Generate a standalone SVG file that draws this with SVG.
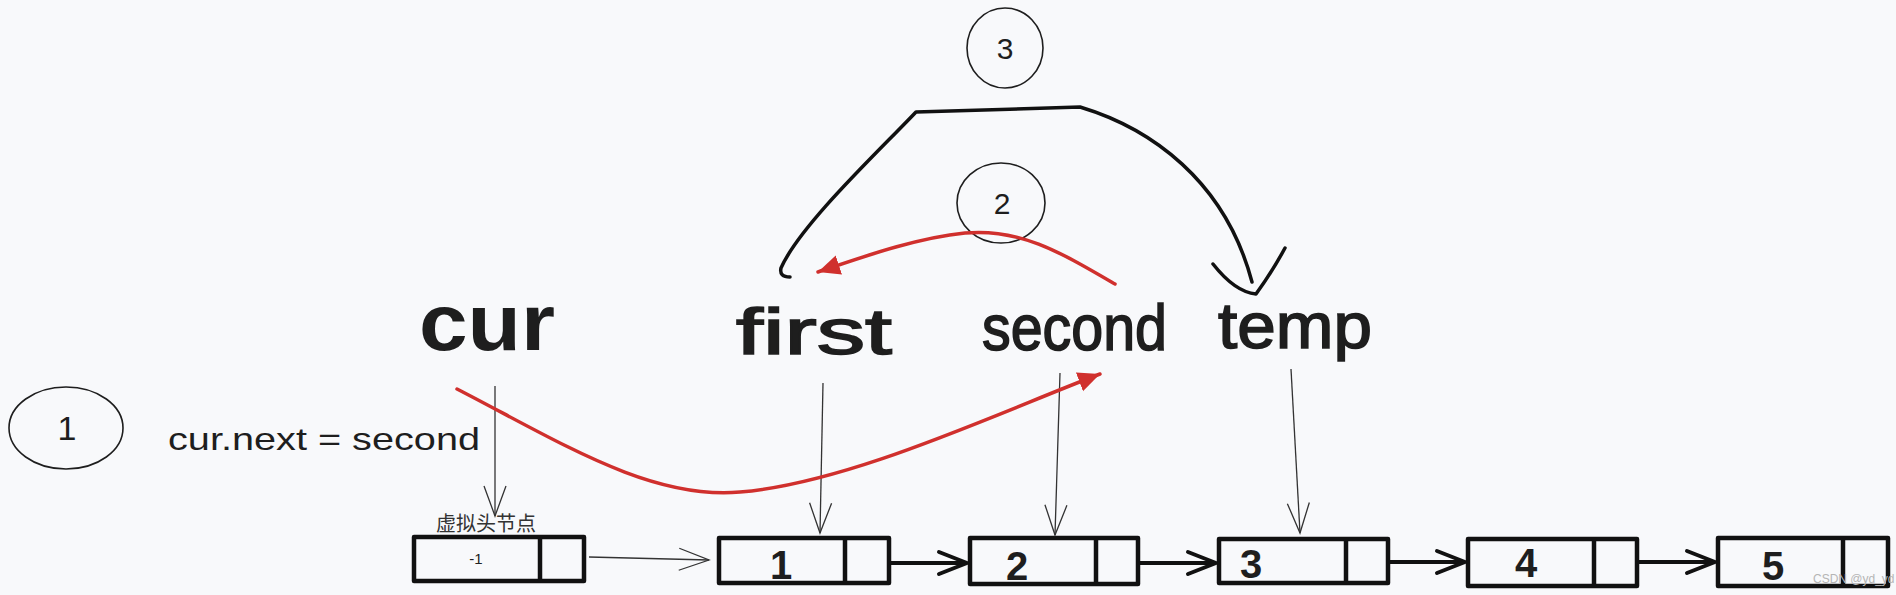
<svg xmlns="http://www.w3.org/2000/svg" width="1896" height="595" viewBox="0 0 1896 595">
<defs>
<style>
.hand{font-family:"Liberation Sans","Open Sans",sans-serif;fill:#1e1e1e;}
.big{font-size:64px;text-anchor:start;stroke:#1e1e1e;stroke-width:1.6;}
.box{fill:none;stroke:#111;stroke-width:4.5;stroke-linejoin:round;}
.num{font-family:"Liberation Sans",sans-serif;font-weight:bold;font-size:40px;fill:#1e1e1e;text-anchor:middle;}
.thin{fill:none;stroke:#333;stroke-width:1.3;}
.thick{fill:none;stroke:#111;stroke-width:4;}
.red{fill:none;stroke:#d0302d;stroke-width:3.5;stroke-linecap:round;}
.circ{fill:none;stroke:#1e1e1e;stroke-width:1.6;}
</style>
<marker id="thinHead" markerUnits="userSpaceOnUse" markerWidth="34" markerHeight="26" refX="31" refY="12" orient="auto">
<path d="M1,1 L31,12 L1,23" fill="none" stroke="#333" stroke-width="1.3"/>
</marker>
<marker id="thickHead" markerUnits="userSpaceOnUse" markerWidth="36" markerHeight="30" refX="31" refY="14" orient="auto">
<path d="M3,3 L31,14 L3,25" fill="none" stroke="#111" stroke-width="4" stroke-linecap="round" stroke-linejoin="round"/>
</marker>
<marker id="redHead" markerUnits="userSpaceOnUse" markerWidth="26" markerHeight="22" refX="22" refY="10" orient="auto">
<path d="M0,0 L22,10 L0,20 Z" fill="#d0302d"/>
</marker>
</defs>
<rect width="1896" height="595" fill="#f8f9fb"/>

<g id="step1">
<ellipse class="circ" cx="66" cy="428" rx="57" ry="41"/>
<text class="hand" x="67" y="440" font-size="34" text-anchor="middle">1</text>
<text class="hand" x="168" y="450" font-size="32" textLength="312" lengthAdjust="spacingAndGlyphs">cur.next = second</text>
</g>

<g id="step2">
<ellipse class="circ" cx="1001" cy="203" rx="44" ry="40"/>
<text class="hand" x="1002" y="214" font-size="30" text-anchor="middle">2</text>
</g>

<g id="step3">
<ellipse class="circ" cx="1005" cy="48" rx="38" ry="40"/>
<text class="hand" x="1005" y="59" font-size="30" text-anchor="middle">3</text>
</g>

<g id="label-cur">
<text class="hand" x="419" y="350" font-size="80" font-weight="bold" textLength="136" lengthAdjust="spacingAndGlyphs">cur</text>
</g>
<g id="label-first">
<text class="hand big" x="736" y="354" textLength="156" lengthAdjust="spacingAndGlyphs">first</text>
</g>
<g id="label-second">
<text class="hand big" x="982" y="350" textLength="185" lengthAdjust="spacingAndGlyphs">second</text>
</g>
<g id="label-temp">
<text class="hand big" x="1218" y="348" textLength="154" lengthAdjust="spacingAndGlyphs">temp</text>
</g>

<g id="node-dummy">
<text x="486" y="531" font-family="'Liberation Sans','Noto Sans CJK SC',sans-serif" font-size="20" fill="#333" text-anchor="middle">虚拟头节点</text>
<rect class="box" x="414" y="537" width="170" height="44"/>
<line class="box" x1="540" y1="537" x2="540" y2="581"/>
<text x="476" y="564" font-family="'Liberation Sans',sans-serif" font-size="15" fill="#222" text-anchor="middle">-1</text>
</g>
<g id="node-1">
<rect class="box" x="719" y="538" width="170" height="45"/>
<line class="box" x1="845" y1="538" x2="845" y2="583"/>
<text class="num" x="781" y="579">1</text>
</g>
<g id="node-2">
<rect class="box" x="970" y="538" width="168" height="46"/>
<line class="box" x1="1096" y1="538" x2="1096" y2="584"/>
<text class="num" x="1017" y="580">2</text>
</g>
<g id="node-3">
<rect class="box" x="1219" y="539" width="169" height="44"/>
<line class="box" x1="1346" y1="539" x2="1346" y2="583"/>
<text class="num" x="1251" y="578">3</text>
</g>
<g id="node-4">
<rect class="box" x="1468" y="539" width="169" height="47"/>
<line class="box" x1="1594" y1="539" x2="1594" y2="586"/>
<text class="num" x="1526" y="577">4</text>
</g>
<g id="node-5">
<rect class="box" x="1718" y="538" width="170" height="48"/>
<line class="box" x1="1843" y1="538" x2="1843" y2="586"/>
<text class="num" x="1773" y="580">5</text>
</g>

<g id="connectors">
<path class="thin" d="M495,386 L495,516" marker-end="url(#thinHead)"/>
<path class="thin" d="M823,383 L820,533" marker-end="url(#thinHead)"/>
<path class="thin" d="M1060,373 L1055,535" marker-end="url(#thinHead)"/>
<path class="thin" d="M1291,369 L1300,533" marker-end="url(#thinHead)"/>
<path class="thin" d="M589,557 L709,560" marker-end="url(#thinHead)"/>
<path class="thick" d="M889,563 L967,563" marker-end="url(#thickHead)"/>
<path class="thick" d="M1138,563 L1216,563" marker-end="url(#thickHead)"/>
<path class="thick" d="M1388,562 L1465,562" marker-end="url(#thickHead)"/>
<path class="thick" d="M1637,562 L1715,562" marker-end="url(#thickHead)"/>
<path class="red" d="M457,389 C560,442 650,500 740,492 C850,483 1000,412 1100,374" marker-end="url(#redHead)"/>
<path class="red" d="M1115,284 C1060,252 1020,228 965,233 C915,238 860,258 818,272" marker-end="url(#redHead)"/>
<path fill="none" stroke="#111" stroke-width="3.5" stroke-linecap="round" stroke-linejoin="round" d="M790,277 Q779,277 781,268 C800,225 880,150 916,112 L1080,107 C1150,128 1225,180 1252,282"/>
<path fill="none" stroke="#111" stroke-width="3.5" stroke-linecap="round" stroke-linejoin="round" d="M1213,264 Q1235,292 1256,294 Q1272,272 1285,248"/>
</g>

<text x="1813" y="583" font-family="'Liberation Sans',sans-serif" font-size="12" fill="#b5b5b5">CSDN @yd_yd</text>
</svg>
